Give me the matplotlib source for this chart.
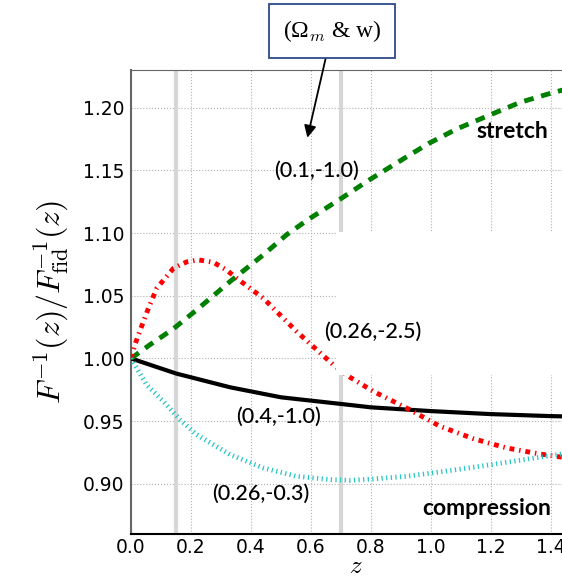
import numpy as np
import matplotlib
matplotlib.use("Agg")
import matplotlib.pyplot as plt
from matplotlib.patches import Rectangle

plt.rcParams['mathtext.fontset'] = 'cm'

###### values ######
z_black = [0, 0.15, 0.33, 0.5, 0.7, 0.8, 1.0, 1.2, 1.4, 1.5]
f_black = [1.0, 0.988, 0.977, 0.969, 0.9637, 0.961, 0.958, 0.9556, 0.954, 0.9535]

z_green = [0, 0.063, 0.141, 0.219, 0.33, 0.441, 0.519, 0.59, 0.697, 0.794, 0.919, 0.992, 1.086, 1.191, 1.297, 1.391, 1.5]
f_green = [1.0, 1.0109, 1.0236, 1.0387, 1.0613, 1.0826, 1.0987, 1.1107, 1.127, 1.1423, 1.1608, 1.1714, 1.183, 1.1936, 1.2042, 1.2109, 1.218]

z_red = [0, 0.013, 0.029, 0.058, 0.086, 0.142, 0.186, 0.224, 0.274, 0.318, 0.352, 0.441, 0.552, 0.674, 0.73,
         0.808, 0.919, 1.03, 1.141, 1.252, 1.363, 1.5]
f_red = [1.0, 1.011, 1.0215, 1.040, 1.056, 1.072, 1.077, 1.0786, 1.0767, 1.0706, 1.064, 1.048, 1.0215, 0.995, 0.985,
         0.9737, 0.9604, 0.9459, 0.936, 0.9286, 0.9238, 0.919]

z_cyan = [0, 0.022, 0.052, 0.108, 0.163, 0.219, 0.33, 0.441, 0.552, 0.663, 0.73, 0.808, 0.919, 1.03, 1.141, 1.252, 1.363, 1.5]
f_cyan = [1.0, 0.991, 0.979, 0.9658, 0.9512, 0.9392, 0.9233, 0.9127, 0.906, 0.9034, 0.9028, 0.9039, 0.906, 0.9095, 0.9132, 0.9172, 0.9212, 0.926]

vlines_z = [0.15, 0.7]

curve_labels = ["(0.1,-1.0)", "(0.26,-2.5)", "(0.4,-1.0)", "(0.26,-0.3)"]
label_pos = [(0.619, 1.15), (0.807, 1.0215), (0.493, 0.9533), (0.433, 0.8924)]

fig = plt.figure(figsize=(5.62, 5.79), dpi=100)
ax = fig.add_axes([131/562, 45/579, 450/562, 464/579])

for zv in vlines_z:
    ax.axvline(zv, color='#d6d6d6', lw=3, zorder=1)

ax.plot(z_black, f_black, color='black', lw=3, zorder=3)
ax.plot(z_green, f_green, color='green', lw=3.5, ls=(0, (2, 1.6)), zorder=3)
ax.plot(z_red, f_red, color='red', lw=3.5, ls=(0, (1.0, 1.0, 0.3, 1.0)), zorder=3)
ax.plot(z_cyan, f_cyan, color='#22c4c4', lw=3.5, ls=(0, (0.25, 0.7)), zorder=3)

# white patch behind the (0.26,-2.5) label
ax.add_patch(Rectangle((0.683, 0.987), 0.9, 0.114, facecolor='white', edgecolor='none', zorder=4))

for txt, (x, y) in zip(curve_labels, label_pos):
    ax.text(x, y, txt, ha='center', va='center', fontsize=15.5, family='Lato', weight='medium', zorder=5)

ax.text(1.27, 1.181, "stretch", ha='center', va='center', fontsize=16.5, family='Lato', weight='bold', zorder=5)
ax.text(1.187, 0.8805, "compression", ha='center', va='center', fontsize=16.5, family='Lato', weight='bold', zorder=5)

ax.annotate("(Ω$_m$ & w)", xy=(0.588, 1.176), xytext=(0.67, 1.2613),
            textcoords='data', annotation_clip=False, ha='center', va='center',
            fontsize=17, family='Liberation Serif',
            bbox=dict(boxstyle='square,pad=0.6', fc='white', ec='#2b4a86', lw=1.3),
            arrowprops=dict(arrowstyle='-|>', color='black', lw=1.3, mutation_scale=18,
                            shrinkA=0, shrinkB=0))

ax.set_xlim(0, 1.5)
ax.set_ylim(0.86, 1.23)
ax.set_xticks(np.arange(0, 1.41, 0.2))
ax.set_yticks([0.90, 0.95, 1.00, 1.05, 1.10, 1.15, 1.20])
ax.xaxis.set_major_formatter(matplotlib.ticker.FormatStrFormatter('%.1f'))
ax.yaxis.set_major_formatter(matplotlib.ticker.FormatStrFormatter('%.2f'))
ax.tick_params(labelsize=13.5, length=0)
ax.tick_params(axis='x', pad=3)
ax.tick_params(axis='y', pad=5)
ax.grid(True, ls=':', color='#b0b0b0', lw=0.8, zorder=0)
ax.set_axisbelow(True)
for s in ['left', 'top', 'right']:
    ax.spines[s].set_color('#666666')
ax.spines['bottom'].set_color('black')
ax.spines['left'].set_linewidth(1.5)
ax.spines['bottom'].set_linewidth(1.5)

ax.set_xlabel("$z$", fontsize=18, labelpad=-2)
ax.set_ylabel(r"$F^{-1}(z)/F^{-1}_{\rm fid}(z)$", fontsize=23, labelpad=8)

fig.savefig("out.png", dpi=100)
